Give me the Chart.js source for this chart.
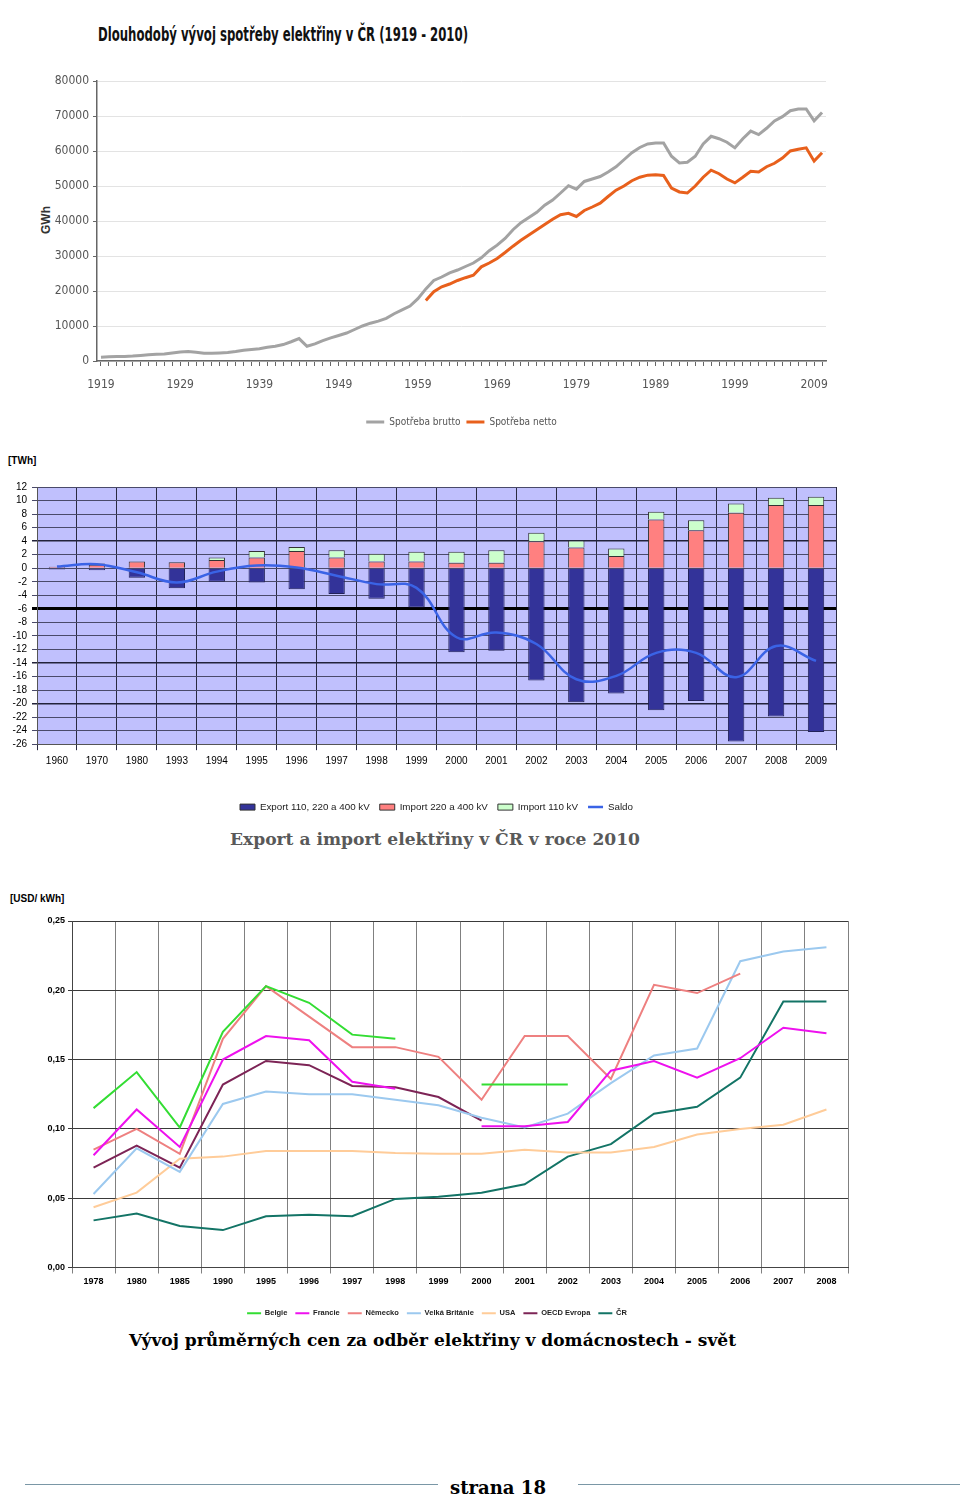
<!DOCTYPE html>
<html>
<head>
<meta charset="utf-8">
<script src="https://cdn.jsdelivr.net/npm/chart.js@4/dist/chart.umd.min.js"></script>
<style>
  html,body{margin:0;padding:0;background:#fff;}
  body{width:960px;height:1497px;position:relative;overflow:hidden;font-family:'Liberation Sans',Arial,sans-serif;}
  .box{position:absolute;}
  .t{position:absolute;white-space:nowrap;line-height:1;transform-origin:left center;}
</style>
</head>
<body>
<script>
// ---------- Chart 1 data: Dlouhodobý vývoj spotřeby elektřiny (GWh) ----------
const years1 = [1919,1920,1921,1922,1923,1924,1925,1926,1927,1928,1929,1930,1931,1932,1933,1934,1935,1936,1937,1938,
1939,1940,1941,1942,1943,1944,1945,1946,1947,1948,1949,1950,1951,1952,1953,1954,1955,1956,1957,1958,
1959,1960,1961,1962,1963,1964,1965,1966,1967,1968,1969,1970,1971,1972,1973,1974,1975,1976,1977,1978,
1979,1980,1981,1982,1983,1984,1985,1986,1987,1988,1989,1990,1991,1992,1993,1994,1995,1996,1997,1998,
1999,2000,2001,2002,2003,2004,2005,2006,2007,2008,2009,2010];
const brutto = [1100,1200,1300,1300,1400,1600,1800,1900,2000,2300,2600,2700,2500,2200,2200,2300,2400,2700,3100,3300,
3500,3900,4200,4700,5500,6400,4200,4900,5800,6600,7300,8000,9000,10000,10800,11400,12200,13500,14600,15700,
17800,20600,23000,24000,25200,26000,27000,28000,29500,31500,33100,35000,37500,39500,41000,42500,44500,46000,48000,50100,
49100,51300,52000,52700,54000,55500,57500,59500,61000,62000,62300,62300,58500,56600,56800,58500,62000,64200,63500,62500,
60900,63500,65700,64700,66500,68600,69800,71500,72000,72000,68600,71000];
const netto = [null,null,null,null,null,null,null,null,null,null,null,null,null,null,null,null,null,null,null,null,
null,null,null,null,null,null,null,null,null,null,null,null,null,null,null,null,null,null,null,null,
null,17300,19800,21200,22000,23000,23800,24500,26900,28000,29300,31000,32800,34500,36000,37500,39000,40500,41800,42200,
41300,43000,44000,45100,47000,48800,50000,51500,52500,53100,53200,53000,49400,48300,48000,50000,52500,54500,53500,52000,
50900,52500,54200,54000,55500,56500,58000,60000,60500,60900,57100,59500];
const labelYears1 = [1919,1929,1939,1949,1959,1969,1979,1989,1999,2009];

// ---------- Chart 2 data: Export a import elektřiny (TWh) ----------
const cats2 = ['1960','1970','1980','1993','1994','1995','1996','1997','1998','1999','2000','2001','2002','2003','2004','2005','2006','2007','2008','2009'];
const export2 = [-0.2,-0.3,-1.4,-2.95,-2.0,-2.1,-3.1,-3.8,-4.5,-5.8,-12.4,-12.2,-16.6,-19.8,-18.5,-21.0,-19.6,-25.6,-21.9,-24.2];
const import220 = [0.2,0.5,1.0,0.9,1.2,1.6,2.55,1.6,1.0,1.0,0.8,0.8,4.0,3.05,1.8,7.2,5.6,8.2,9.35,9.35];
const import110 = [0,0.2,0,0,0.4,0.95,0.6,1.05,1.15,1.45,1.65,1.85,1.25,1.05,1.1,1.15,1.5,1.35,1.05,1.2];
const saldo = [0.25,0.6,-0.6,-2.1,-0.5,0.4,0.1,-1.1,-2.35,-2.9,-10.2,-9.5,-11.2,-16.4,-15.9,-12.5,-12.5,-16.1,-11.5,-13.7];

// ---------- Chart 3 data: ceny elektřiny (USD/kWh) ----------
const cats3 = ['1978','1980','1985','1990','1995','1996','1997','1998','1999','2000','2001','2002','2003','2004','2005','2006','2007','2008'];
const belgie  = [0.115,0.141,0.101,0.170,0.203,0.191,0.168,0.165,null,0.132,0.132,0.132,null,null,null,null,null,null];
const francie = [0.081,0.114,0.087,0.150,0.167,0.164,0.134,0.129,null,0.102,0.102,0.105,0.142,0.149,0.137,0.151,0.173,0.169];
const nemecko = [0.085,0.100,0.082,0.165,0.203,0.181,0.159,0.159,0.152,0.121,0.167,0.167,0.136,0.204,0.198,0.212,null,null];
const vb      = [0.053,0.086,0.069,0.118,0.127,0.125,0.125,0.121,0.117,0.108,0.101,0.111,0.133,0.153,0.158,0.221,0.228,0.231];
const usa     = [0.0435,0.054,0.0785,0.080,0.084,0.084,0.084,0.0826,0.082,0.082,0.085,0.083,0.083,0.087,0.096,0.100,0.103,0.114];
const oecd    = [0.072,0.088,0.072,0.132,0.149,0.146,0.131,0.130,0.123,0.106,null,null,null,null,null,null,null,null];
const cr      = [0.034,0.039,0.030,0.027,0.037,0.038,0.037,0.0495,0.051,0.054,0.060,0.080,0.089,0.111,0.116,0.137,0.192,0.192];
</script>

<!-- texts -->
<div class="t" id="title1" style="left:98px;top:23px;font:bold 19px 'Liberation Sans Narrow','DejaVu Sans Condensed',Arial,sans-serif;color:#111;">Dlouhodobý vývoj spotřeby elektřiny v ČR (1919 - 2010)</div>
<div class="t" style="left:46px;top:220px;font:bold 12px 'Liberation Sans',Arial,sans-serif;color:#333;transform:translate(-50%,-50%) rotate(-90deg);transform-origin:center center;">GWh</div>
<div class="t" style="left:8px;top:455px;font:bold 10px 'Liberation Sans',Arial,sans-serif;color:#000;">[TWh]</div>
<div class="t" id="cap2" style="left:230px;top:830px;font:bold 16px 'DejaVu Serif',serif;color:#595959;">Export a import elektřiny v ČR v roce 2010</div>
<div class="t" style="left:10px;top:893px;font:bold 10px 'Liberation Sans',Arial,sans-serif;color:#000;">[USD/ kWh]</div>
<div class="t" id="cap3" style="left:129px;top:1331px;font:bold 16px 'DejaVu Serif',serif;color:#000;">Vývoj průměrných cen za odběr elektřiny v domácnostech - svět</div>
<div style="position:absolute;left:25px;top:1484px;width:413px;height:0;border-top:1.5px solid #7a97a6;"></div>
<div style="position:absolute;left:578px;top:1484px;width:382px;height:0;border-top:1.5px solid #7a97a6;"></div>
<div class="t" id="foot" style="left:450px;top:1476px;font:bold 19px 'DejaVu Serif',serif;color:#000;">strana 18</div>

<div class="box" style="left:0;top:60px;width:860px;height:385px;"><canvas id="c1"></canvas></div>
<div class="box" style="left:0;top:470px;width:860px;height:356px;"><canvas id="c2"></canvas></div>
<div class="box" style="left:0;top:905px;width:870px;height:425px;"><canvas id="c3"></canvas></div>

<script>
function fit(id,w){const el=document.getElementById(id);const r=el.getBoundingClientRect().width;el.style.transform='scaleX('+(w/r)+')';}
fit('title1',370); fit('cap2',410); fit('cap3',607); fit('foot',96);

const bgPlugin={id:'bg',beforeDraw(chart,args,opts){if(!opts||!opts.color)return;const {ctx,chartArea:a}=chart;ctx.save();ctx.fillStyle=opts.color;ctx.fillRect(a.left,a.top,a.right-a.left,a.bottom-a.top);ctx.restore();}};

const narrow="'Liberation Sans Narrow','DejaVu Sans Condensed',Arial,sans-serif";
const arial="'Liberation Sans',Arial,sans-serif";

// Chart 1
new Chart(document.getElementById('c1'),{
  type:'line',
  data:{labels:years1.map(String),datasets:[
    {label:'Spotřeba brutto',data:brutto,borderColor:'#a3a3a3',backgroundColor:'#a3a3a3',borderWidth:3,pointRadius:0,tension:0},
    {label:'Spotřeba netto',data:netto,borderColor:'#e8601c',backgroundColor:'#e8601c',borderWidth:3,pointRadius:0,tension:0}
  ]},
  options:{responsive:true,maintainAspectRatio:false,animation:false,
    layout:{padding:{top:21,right:34,bottom:8,left:0}},
    plugins:{tooltip:{enabled:false},
      legend:{position:'bottom',fullSize:false,labels:{usePointStyle:true,pointStyle:'line',pointStyleWidth:18,padding:6,color:'#555',font:{family:narrow,size:10},
        generateLabels(ch){const it=Chart.defaults.plugins.legend.labels.generateLabels(ch);it.forEach(i=>{i.pointStyle='line';});return it;}}}},
    scales:{
      x:{offset:true,grid:{display:true,drawOnChartArea:false,offset:false,tickLength:5,color:'#666',tickColor:'#666'},border:{color:'#666',width:1.5},
        ticks:{autoSkip:false,maxRotation:0,padding:12,color:'#555',font:{family:narrow,size:12},
          callback:(v,i)=>labelYears1.includes(years1[i])?String(years1[i]):''},
        afterFit:s=>{s.height=50;}},
      y:{min:0,max:80000,ticks:{stepSize:10000,padding:4,color:'#555',font:{family:narrow,size:12},callback:v=>String(v)},
        grid:{color:'#e3e3e3',tickColor:'#666',tickLength:4},border:{color:'#666',width:1.5},
        afterFit:s=>{s.width=97;}}
    }}
});

// Chart 2
const darkRows=[4,-14,-20];
new Chart(document.getElementById('c2'),{
  type:'bar',
  data:{labels:cats2,datasets:[
    {type:'line',label:'Saldo',data:saldo,borderColor:'#3a63e6',backgroundColor:'#3a63e6',borderWidth:2.5,pointRadius:0,tension:0.4,order:0},
    {label:'Export 110, 220 a 400 kV',data:export2,backgroundColor:'#333399',borderColor:'#22225a',borderWidth:1,stack:'s',order:1},
    {label:'Import 220 a 400 kV',data:import220,backgroundColor:'#ff8080',borderColor:'#333',borderWidth:1,stack:'s',order:1},
    {label:'Import 110 kV',data:import110,backgroundColor:'#ccffcc',borderColor:'#333',borderWidth:1,stack:'s',order:1}
  ]},
  plugins:[bgPlugin],
  options:{responsive:true,maintainAspectRatio:false,animation:false,
    categoryPercentage:1,barPercentage:0.41,
    layout:{padding:{top:17,right:24,bottom:4,left:0}},
    plugins:{tooltip:{enabled:false},bg:{color:'#c0c0fd'},
      legend:{position:'bottom',fullSize:false,labels:{usePointStyle:true,pointStyleWidth:15,boxHeight:6,padding:10,color:'#222',font:{family:arial,size:9.8},
        generateLabels(ch){const it=Chart.defaults.plugins.legend.labels.generateLabels(ch);
          const order=[1,2,3,0];const out=order.map(k=>it.find(i=>i.datasetIndex===k));
          out.forEach(i=>{i.pointStyle=(i.datasetIndex===0)?'line':'rect';if(i.datasetIndex!==0){i.lineWidth=1;i.strokeStyle='#333';}});return out;}}}},
    scales:{
      x:{stacked:true,grid:{offset:true,color:'#2a2a40',tickLength:6,lineWidth:1},border:{color:'#555'},
        ticks:{color:'#000',padding:5,font:{family:arial,size:10},maxRotation:0,autoSkip:false},
        afterFit:s=>{s.height=48;}},
      y:{stacked:true,min:-26,max:12,ticks:{stepSize:2,autoSkip:false,color:'#000',padding:5,font:{family:arial,size:10}},
        grid:{tickLength:5,
          color:c=>c.tick.value===-6?'#000':(darkRows.includes(c.tick.value)?'#22223a':'#4a4a6a'),
          lineWidth:c=>c.tick.value===-6?3:(darkRows.includes(c.tick.value)?1.5:1)},
        border:{color:'#555'},
        afterFit:s=>{s.width=37;}}
    }}
});

// Chart 3
const ds3=[['Belgie',belgie,'#33dd33'],['Francie',francie,'#ee11ee'],['Německo',nemecko,'#ee8080'],['Velká Británie',vb,'#9cc9ef'],
  ['USA',usa,'#ffcc99'],['OECD Evropa',oecd,'#7d2456'],['ČR',cr,'#137466']];
new Chart(document.getElementById('c3'),{
  type:'line',
  data:{labels:cats3,datasets:ds3.map(d=>({label:d[0],data:d[1],borderColor:d[2],backgroundColor:d[2],borderWidth:2,pointRadius:0,tension:0,spanGaps:false}))},
  options:{responsive:true,maintainAspectRatio:false,animation:false,
    layout:{padding:{top:16,right:22,bottom:3,left:26}},
    plugins:{tooltip:{enabled:false},
      legend:{position:'bottom',labels:{usePointStyle:true,pointStyleWidth:14,padding:8,color:'#222',font:{family:arial,size:7.5,weight:'bold'},
        generateLabels(ch){const it=Chart.defaults.plugins.legend.labels.generateLabels(ch);it.forEach(i=>{i.pointStyle='line';});return it;}}}},
    scales:{
      x:{offset:true,grid:{offset:true,color:'#808080',tickLength:6},border:{color:'#444'},
        ticks:{color:'#000',padding:3,font:{family:arial,size:9,weight:'bold'},maxRotation:0,autoSkip:false},
        afterFit:s=>{s.height=34;}},
      y:{min:0,max:0.25,ticks:{stepSize:0.05,color:'#000',padding:3,font:{family:arial,size:9,weight:'bold'},callback:v=>v.toFixed(2).replace('.',',')},
        grid:{color:'#3a3a3a',tickLength:4},border:{color:'#444'},
        afterFit:s=>{s.width=46;}}
    }}
});
</script>
</body>
</html>
